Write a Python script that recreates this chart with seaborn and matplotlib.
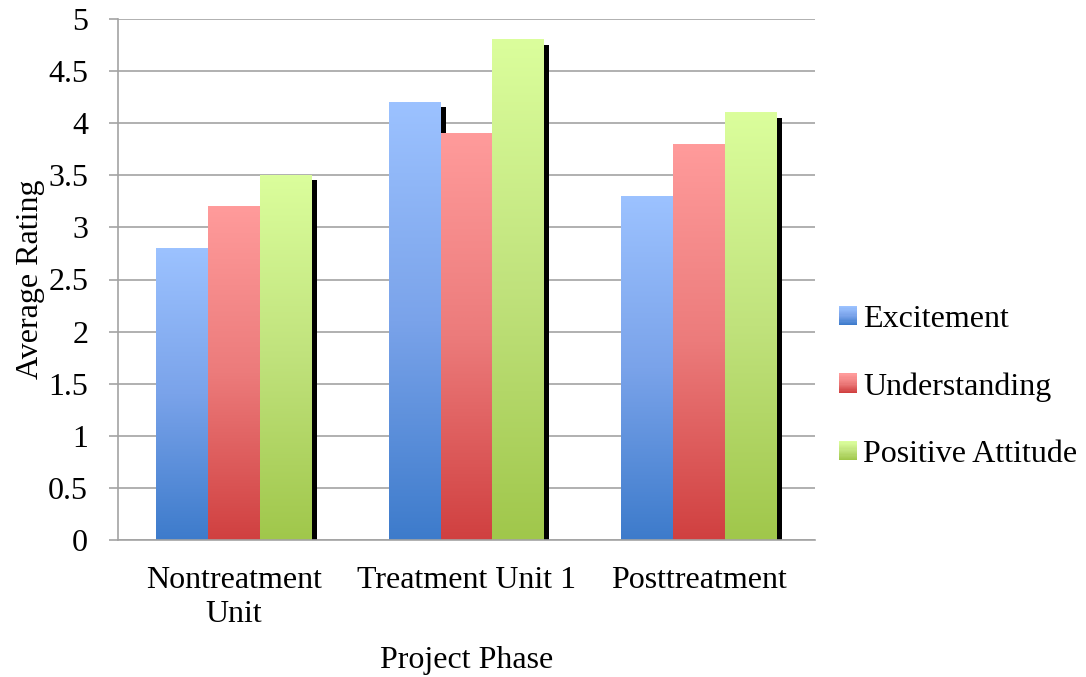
import numpy as np
import pandas as pd
import matplotlib
matplotlib.use("Agg")
from matplotlib import pyplot as plt
import seaborn as sns
from matplotlib.colors import LinearSegmentedColormap
from matplotlib.patches import Rectangle
from matplotlib.legend_handler import HandlerBase
from matplotlib.transforms import ScaledTranslation

phases = ["Nontreatment\nUnit", "Treatment Unit 1", "Posttreatment"]
measures = ["Excitement", "Understanding", "Positive Attitude"]
excitement = [2.8, 4.2, 3.3]
understanding = [3.2, 3.9, 3.8]
attitude = [3.5, 4.8, 4.1]
y_ticks = [0, 0.5, 1, 1.5, 2, 2.5, 3, 3.5, 4, 4.5, 5]

# gradient stops: bottom, middle, top
grad_stops = {
    "Excitement": ["#3D7BCB", "#7AA3EA", "#9CC2FF"],
    "Understanding": ["#D04040", "#EC7B7B", "#FF9B9B"],
    "Positive Attitude": ["#A0C74B", "#C0E27C", "#DBFE9C"],
}
cmaps = {m: LinearSegmentedColormap.from_list(m, grad_stops[m]) for m in measures}

df = pd.DataFrame({
    "phase": phases * 3,
    "measure": np.repeat(measures, 3),
    "rating": excitement + understanding + attitude,
})

sns.set_style("white")
plt.rcParams["font.family"] = ["Liberation Serif", "DejaVu Serif"]
plt.rcParams["text.color"] = "black"
plt.rcParams["axes.labelcolor"] = "black"
plt.rcParams["xtick.labelcolor"] = "black"
plt.rcParams["ytick.labelcolor"] = "black"
FS = 23

fig = plt.figure(figsize=(10.86, 6.77), dpi=100)
ax = fig.add_axes([118 / 1086, 1 - 540 / 677, 697 / 1086, 521 / 677])

sns.barplot(data=df, x="phase", y="rating", hue="measure", hue_order=measures,
            order=phases, width=0.67, ax=ax, legend=False, errorbar=None)

grad = np.linspace(0, 1, 256).reshape(-1, 1)
bars = list(ax.patches)
for i, bar in enumerate(bars):
    k = i // 3
    m = measures[k]
    x0 = bar.get_x()
    w = bar.get_width()
    h = bar.get_height()
    bar.set_visible(False)
    shadow = Rectangle((x0, 0), w, h, facecolor="black", edgecolor="none",
                       transform=ax.transData + ScaledTranslation(0.05, -0.05, fig.dpi_scale_trans),
                       zorder=2 + 2 * k)
    ax.add_patch(shadow)
    ax.imshow(grad, extent=[x0, x0 + w, 0, h], aspect="auto", cmap=cmaps[m],
              origin="lower", zorder=3 + 2 * k, interpolation="bilinear")

ax.set_xlim(-0.5, 2.5)
ax.set_ylim(0, 5)
ax.set_yticks(y_ticks)
ax.set_yticklabels(["%g" % t for t in y_ticks])
ax.yaxis.grid(True, color="#A3A3A3", linewidth=1.2, zorder=0)
ax.set_axisbelow(True)

for s in ["top", "right"]:
    ax.spines[s].set_visible(False)
for s in ["left", "bottom"]:
    ax.spines[s].set_color("#A3A3A3")
    ax.spines[s].set_linewidth(1.2)
    ax.spines[s].set_zorder(10)

ax.set_xticks([-0.5, 0.5, 1.5, 2.5], minor=True)
ax.tick_params(axis="x", which="major", length=0, pad=19, labelsize=FS, labelcolor="black")
ax.tick_params(axis="x", which="minor", length=6.5, width=1.2, color="#A3A3A3", direction="out")
ax.tick_params(axis="y", length=6.5, width=1.2, color="#A3A3A3", direction="out", pad=15,
               labelsize=FS, left=True, labelcolor="black")
for lab in ax.get_xticklabels():
    lab.set_linespacing(1.2)

ax.set_xlabel("Project Phase", fontsize=FS, color="black")
ax.set_ylabel("Average Rating", fontsize=FS, color="black")
ax.xaxis.set_label_coords(0.5, -0.203)
ax.yaxis.set_label_coords(-0.105, 0.5)


class GradientHandler(HandlerBase):
    def __init__(self, cmap):
        super().__init__()
        self.cmap = cmap

    def create_artists(self, legend, orig_handle, xdescent, ydescent, width, height, fontsize, trans):
        n = 16
        arts = []
        for j in range(n):
            r = Rectangle((-xdescent, -ydescent + height * j / n), width, height / n + 0.3,
                          facecolor=self.cmap(j / (n - 1)), edgecolor="none", transform=trans)
            arts.append(r)
        return arts


handles = [Rectangle((0, 0), 1, 1) for _ in measures]
leg = ax.legend(handles, measures,
                handler_map={h: GradientHandler(cmaps[m]) for h, m in zip(handles, measures)},
                loc="center left", bbox_to_anchor=(839 / 1086, 1 - 387 / 677), bbox_transform=fig.transFigure,
                frameon=False, fontsize=FS, handlelength=0.55, handleheight=0.55, handletextpad=0.2,
                labelspacing=1.2, borderpad=0, borderaxespad=0)
for t in leg.get_texts():
    t.set_color("black")

fig.savefig("out.png", dpi=100)
